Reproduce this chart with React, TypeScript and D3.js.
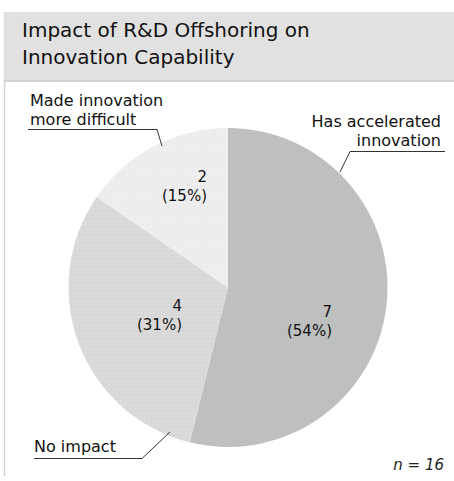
import React from "react";
import * as d3 from "d3";

const categories = ["Has accelerated innovation", "No impact", "Made innovation more difficult"];
const counts = [7, 4, 2];
const percents = ["54%", "31%", "15%"];
const sampleSize = 16;
const title = ["Impact of R&D Offshoring on", "Innovation Capability"];

const W = 454;
const H = 481;
const FONT = "'DejaVu Sans', Verdana, sans-serif";
const colors = ["#bdbfbf", "#d8d8d9", "#ececec"];
// label anchor (right edge, first baseline) relative to pie center
const valueLabelPos: [number, number][] = [
  [104, 29.5],
  [-46, 23.5],
  [-21, -105.5],
];

export default function App() {
  const cx = 228;
  const cy = 287.5;
  const r = 159.5;
  const pie = d3.pie<number>().sort(null).value((d) => d);
  const arcs = pie(counts);
  const arc = d3.arc<d3.PieArcDatum<number>>().innerRadius(0).outerRadius(r);

  return (
    <svg
      width={W}
      height={H}
      style={{ position: "absolute", left: 0, top: 0, fontFamily: FONT }}
    >
      <defs>
        <pattern id="p0" width="3" height="3" patternUnits="userSpaceOnUse">
          <rect width="3" height="3" fill={colors[0]} />
          <rect x="0" y="0" width="1" height="1" fill="#c6c8c8" />
        </pattern>
        <pattern id="p1" width="4" height="4" patternUnits="userSpaceOnUse">
          <rect width="4" height="4" fill={colors[1]} />
          <rect x="1" y="1" width="1" height="1" fill="#ebebeb" />
        </pattern>
        <pattern id="p2" width="3" height="3" patternUnits="userSpaceOnUse">
          <rect width="3" height="3" fill={colors[2]} />
          <rect x="1" y="1" width="1" height="1" fill="#f8f8f8" />
        </pattern>
      </defs>
      <rect x={0} y={0} width={W} height={H} fill="#ffffff" />
      {/* left frame line */}
      <line x1={4.5} y1={12} x2={4.5} y2={476} stroke="#d2d2d2" strokeWidth={1.5} />
      {/* title box */}
      <rect x={4} y={12} width={W - 4} height={69} fill="#e1e1e1" />
      <line x1={4} y1={81} x2={W} y2={81} stroke="#c9c9c9" strokeWidth={1.5} />
      {title.map((t, i) => (
        <text key={t} x={22} y={36.5 + i * 27.5} fontSize={20} fill="#111">
          {t}
        </text>
      ))}

      <g transform={`translate(${cx},${cy})`}>
        {arcs.map((a, i) => (
          <path key={categories[i]} d={arc(a) || ""} fill={`url(#p${i})`} />
        ))}
        {arcs.map((a, i) => (
          <text
            key={"v" + i}
            x={valueLabelPos[i][0]}
            y={valueLabelPos[i][1]}
            fontSize={15}
            textAnchor="end"
            fill="#111"
          >
            <tspan x={valueLabelPos[i][0]} dy={0}>{counts[a.index]}</tspan>
            <tspan x={valueLabelPos[i][0]} dy={18.5}>({percents[a.index]})</tspan>
          </text>
        ))}
      </g>

      {/* category labels with leader lines */}
      <text x={441} fontSize={16} textAnchor="end" fill="#111">
        <tspan x={441} y={127}>Has accelerated</tspan>
        <tspan x={441} y={146}>innovation</tspan>
      </text>
      <polyline points="445,151.5 350,151.5 340,172" fill="none" stroke="#333" strokeWidth={1} />

      <text fontSize={16} fill="#111">
        <tspan x={30} y={106}>Made innovation</tspan>
        <tspan x={30} y={125}>more difficult</tspan>
      </text>
      <polyline points="28,129.5 157,129.5 162,146" fill="none" stroke="#333" strokeWidth={1} />

      <text x={34} y={452} fontSize={16} fill="#111">
        No impact
      </text>
      <polyline points="34,458.5 142,458.5 170,432" fill="none" stroke="#333" strokeWidth={1} />

      <text x={444} y={470} fontSize={15} fontStyle="italic" textAnchor="end" fill="#222">
        n = {sampleSize}
      </text>
    </svg>
  );
}
